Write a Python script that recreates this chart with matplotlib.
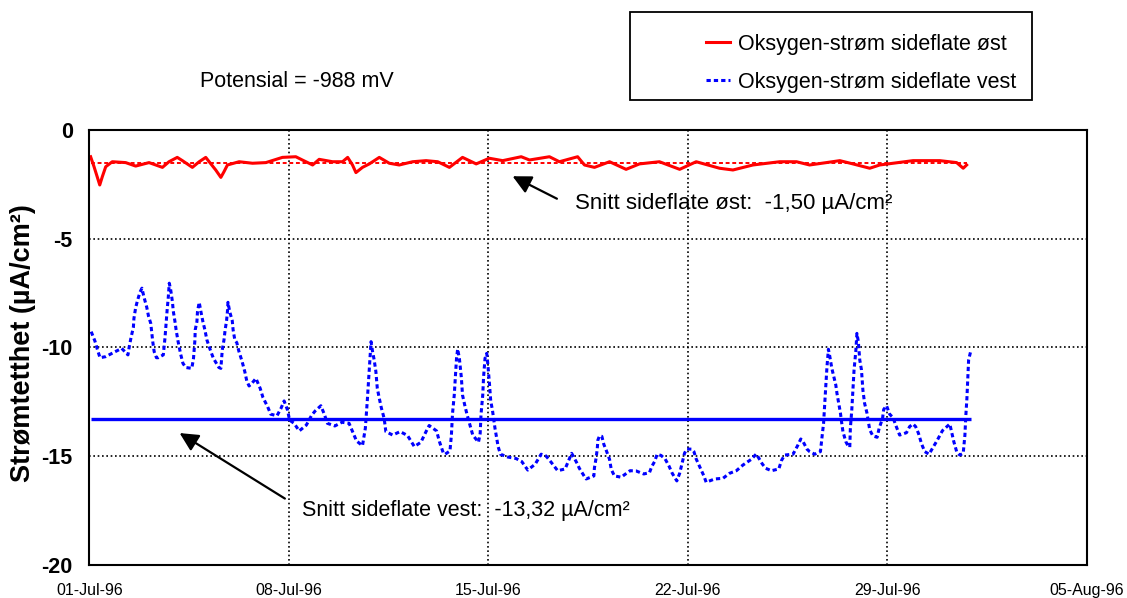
import numpy as np
import matplotlib.pyplot as plt
from matplotlib.patches import Rectangle

plt.rcParams['font.family'] = ['Liberation Sans', 'DejaVu Sans']

# days after 01-Jul-96
east_days = [0.04, 0.16, 0.27, 0.36, 0.45, 0.57, 0.80, 1.27, 1.62, 2.09, 2.56, 2.79, 3.08, 3.26,
             3.61, 3.85, 4.08, 4.26, 4.43, 4.61, 4.72, 4.84, 5.25, 5.72, 6.19, 6.77, 7.24, 7.47,
             7.83, 8.06, 8.53, 8.88, 9.06, 9.23, 9.35, 9.58, 9.82, 10.17, 10.52, 10.87, 11.34,
             11.81, 12.22, 12.63, 13.09, 13.57, 14.03, 14.50, 15.15, 15.44, 16.14, 16.49, 17.13,
             17.37, 17.72, 18.25, 18.83, 19.30, 20.00, 20.71, 21.29, 22.11, 22.58, 23.28, 24.22,
             24.81, 25.27, 25.86, 26.33, 26.79, 27.38, 27.73, 28.20, 28.90, 29.84, 30.43, 30.66,
             30.78]
east_vals = [-1.23, -1.69, -2.15, -2.53, -2.15, -1.69, -1.46, -1.50, -1.66, -1.50, -1.72, -1.46,
             -1.26, -1.41, -1.72, -1.46, -1.26, -1.56, -1.84, -2.18, -1.92, -1.61, -1.46, -1.53,
             -1.50, -1.26, -1.23, -1.38, -1.61, -1.35, -1.46, -1.46, -1.26, -1.61, -1.96, -1.72,
             -1.56, -1.26, -1.53, -1.61, -1.46, -1.41, -1.46, -1.72, -1.26, -1.56, -1.30, -1.41,
             -1.23, -1.38, -1.23, -1.46, -1.23, -1.61, -1.72, -1.46, -1.81, -1.56, -1.46, -1.81,
             -1.46, -1.76, -1.84, -1.61, -1.46, -1.46, -1.61, -1.50, -1.41, -1.56, -1.76, -1.61,
             -1.53, -1.41, -1.41, -1.50, -1.76, -1.61]

west_days = [0.06, 0.19, 0.30, 0.37, 0.57, 0.86, 1.13, 1.35, 1.40, 1.46, 1.54, 1.56, 1.62, 1.68,
             1.77, 1.84, 1.91, 2.01, 2.07, 2.15, 2.22, 2.27, 2.35, 2.41, 2.59, 2.65, 2.70, 2.73,
             2.76, 2.80, 2.85, 2.91, 2.94, 3.00, 3.04, 3.11, 3.20, 3.28, 3.38, 3.59, 3.65, 3.70,
             3.71, 3.77, 3.79, 3.85, 3.91, 3.98, 4.05, 4.12, 4.26, 4.35, 4.54, 4.61, 4.66, 4.72,
             4.76, 4.81, 4.84, 4.86, 4.92, 5.01, 5.04, 5.10, 5.17, 5.24, 5.35, 5.45, 5.52, 5.60,
             5.70, 5.84, 5.99, 6.09, 6.25, 6.36, 6.58, 6.72, 6.83, 6.95, 7.02, 7.18, 7.36, 7.61,
             7.80, 7.92, 8.12, 8.24, 8.35, 8.61, 8.86, 9.11, 9.26, 9.37, 9.58, 9.68, 9.75, 9.79,
             9.83, 9.88, 9.93, 9.99, 10.05, 10.10, 10.17, 10.24, 10.34, 10.40, 10.64, 10.90,
             11.16, 11.40, 11.63, 11.81, 11.92, 12.18, 12.28, 12.42, 12.48, 12.65, 12.70, 12.74,
             12.80, 12.84, 12.88, 12.92, 12.98, 13.05, 13.09, 13.18, 13.26, 13.35, 13.45, 13.65,
             13.71, 13.74, 13.80, 13.83, 13.88, 13.94, 13.97, 14.03, 14.08, 14.14, 14.23, 14.34,
             14.42, 14.68, 14.97, 15.17, 15.38, 15.64, 15.85, 16.02, 16.20, 16.43, 16.69, 16.82,
             16.92, 17.11, 17.19, 17.37, 17.43, 17.70, 17.72, 17.78, 17.82, 17.84, 17.90, 17.98,
             18.05, 18.13, 18.25, 18.31, 18.42, 18.66, 18.77, 18.97, 19.18, 19.45, 19.65, 19.73,
             19.83, 19.92, 20.06, 20.20, 20.33, 20.45, 20.61, 20.71, 20.80, 20.88, 20.96, 21.14,
             21.21, 21.29, 21.41, 21.56, 21.64, 21.94, 22.23, 22.46, 22.70, 22.93, 23.22, 23.40,
             23.61, 23.73, 23.93, 24.19, 24.28, 24.39, 24.69, 24.86, 24.96, 25.04, 25.18, 25.27,
             25.45, 25.65, 25.68, 25.72, 25.76, 25.80, 25.84, 25.88, 25.93, 25.98, 26.05, 26.12,
             26.19, 26.23, 26.29, 26.35, 26.39, 26.44, 26.54, 26.62, 26.68, 26.70, 26.75, 26.79,
             26.83, 26.89, 26.93, 26.98, 27.03, 27.09, 27.14, 27.20, 27.28, 27.38, 27.49, 27.64,
             27.71, 27.83, 27.87, 27.97, 28.08, 28.20, 28.29, 28.43, 28.67, 28.78, 28.90, 28.99,
             29.09, 29.20, 29.31, 29.46, 29.63, 29.74, 29.93, 30.19, 30.25, 30.33, 30.43, 30.54,
             30.66, 30.72, 30.75, 30.79, 30.82, 30.85, 30.92]
west_vals = [-9.28, -9.71, -10.20, -10.48, -10.43, -10.23, -10.05, -10.35, -9.94, -9.54, -9.08,
             -8.67, -8.18, -7.87, -7.47, -7.28, -7.68, -8.16, -8.56, -8.90, -9.74, -10.20, -10.48,
             -10.48, -10.35, -9.56, -8.67, -8.20, -7.79, -7.05, -7.36, -7.90, -8.33, -8.82, -9.20,
             -9.74, -10.32, -10.74, -10.93, -10.97, -10.51, -9.66, -9.20, -8.82, -8.36, -7.93,
             -8.36, -8.82, -9.20, -9.66, -10.20, -10.51, -10.93, -10.97, -10.12, -9.66, -9.20,
             -8.78, -8.36, -7.93, -8.36, -8.78, -9.20, -9.66, -9.79, -10.17, -10.63, -11.12,
             -11.55, -11.78, -11.66, -11.43, -11.89, -12.32, -12.73, -13.08, -13.15, -12.81,
             -12.47, -12.89, -13.35, -13.50, -13.85, -13.58, -13.12, -12.93, -12.69, -13.08,
             -13.50, -13.62, -13.45, -13.50, -13.96, -14.31, -14.53, -13.73, -12.43, -11.58,
             -10.66, -9.74, -10.17, -10.58, -11.12, -11.89, -12.35, -12.78, -13.27, -13.88,
             -14.04, -13.88, -14.06, -14.57, -14.37, -13.88, -13.60, -13.85, -14.34, -14.88,
             -14.92, -14.77, -14.04, -13.04, -12.20, -11.35, -10.51, -10.08, -10.51, -11.40,
             -12.20, -12.73, -13.15, -13.58, -14.04, -14.37, -13.96, -13.08, -12.20, -11.35,
             -10.51, -10.28, -10.66, -11.58, -12.47, -12.89, -13.73, -14.57, -14.92, -15.05,
             -15.12, -15.26, -15.65, -15.38, -14.92, -15.00, -15.29, -15.68, -15.60, -15.19,
             -14.88, -15.34, -15.57, -15.95, -16.06, -15.92, -15.54, -15.08, -14.65, -14.27,
             -14.07, -14.10, -14.47, -14.73, -15.16, -15.62, -15.92, -15.98, -15.87, -15.68,
             -15.69, -15.83, -15.77, -15.49, -15.26, -14.92, -14.98, -15.14, -15.45, -15.80,
             -16.15, -15.80, -15.31, -14.88, -14.68, -14.69, -14.80, -15.14, -15.49, -15.92,
             -16.21, -16.06, -16.03, -15.80, -15.68, -15.42, -15.16, -14.91, -15.37, -15.57,
             -15.68, -15.60, -15.22, -14.96, -14.92, -14.50, -14.22, -14.34, -14.69, -14.80,
             -14.92, -14.80, -14.42, -13.96, -13.50, -12.66, -11.74, -10.89, -10.09, -10.43,
             -10.97, -11.35, -11.74, -12.12, -12.58, -13.01, -13.42, -13.88, -14.34, -14.54,
             -14.60, -13.73, -12.89, -11.97, -11.04, -10.20, -9.36, -9.74, -10.58, -11.04, -11.97,
             -12.58, -13.01, -13.80, -14.08, -14.14, -13.73, -13.27, -12.86, -12.69, -13.08,
             -13.24, -13.58, -14.04, -13.93, -13.65, -13.53, -13.65, -13.96, -14.45, -14.80,
             -14.92, -14.54, -14.30, -13.84, -13.53, -13.88, -14.34, -14.80, -14.96, -14.88,
             -14.04, -13.19, -12.35, -11.50, -10.58, -10.20]

east_mean = -1.50
west_mean = -13.32
tick_days = [0, 7, 14, 21, 28, 35]
tick_labels = ['01-Jul-96', '08-Jul-96', '15-Jul-96', '22-Jul-96', '29-Jul-96', '05-Aug-96']
yticks = [0, -5, -10, -15, -20]

fig = plt.figure(figsize=(11.27, 5.98), dpi=100)
ax = fig.add_axes([0.0794, 0.0559, 0.885, 0.7267])

ax.plot(east_days, east_vals, color='#ff0000', lw=2.2, label='Oksygen-strøm sideflate øst')
ax.plot(west_days, west_vals, color='#0000ff', lw=2.2, linestyle=(0, (1.4, 1.0)),
        label='Oksygen-strøm sideflate vest')
ax.hlines(east_mean, east_days[0], east_days[-1], color='#ff0000', lw=1.4, linestyles=[(0, (2, 1.4))])
ax.hlines(west_mean, west_days[0], west_days[-1], color='#0000ff', lw=2.4)

ax.set_xlim(0, 35)
ax.set_ylim(-20, 0)
ax.set_xticks(tick_days)
ax.set_xticklabels(tick_labels, fontsize=11.5)
ax.set_yticks(yticks)
ax.set_yticklabels([str(v) for v in yticks], fontsize=15.5, fontweight='bold')
ax.tick_params(axis='both', length=0)
ax.tick_params(axis='x', pad=13)
ax.tick_params(axis='y', pad=12)
ax.grid(True, color='black', linestyle=(0, (1, 1.6)), lw=1.2)
for s in ax.spines.values():
    s.set_linewidth(1.5)

ax.set_ylabel('Strømtetthet (µA/cm²)', fontsize=19.5, fontweight='bold')
ax.yaxis.set_label_coords(-0.054, 0.51)

ax.annotate('', xy=(14.76, -2.07), xytext=(16.49, -3.22),
            arrowprops=dict(arrowstyle='-|>', mutation_scale=28, lw=1.6, color='black'))
ax.text(17.02, -3.36, 'Snitt sideflate øst:  -1,50 µA/cm²', fontsize=16, va='center', ha='left')
ax.annotate('', xy=(3.08, -13.88), xytext=(6.94, -17.03),
            arrowprops=dict(arrowstyle='-|>', mutation_scale=28, lw=1.6, color='black'))
ax.text(7.46, -17.49, 'Snitt sideflate vest:  -13,32 µA/cm²', fontsize=15.5, va='center', ha='left')

fig.text(0.1775, 0.863, 'Potensial = -988 mV', fontsize=15.5, va='center', ha='left')

fig.patches.append(Rectangle((630 / 1127, 1 - 100 / 598), 402 / 1127, 88 / 598,
                             transform=fig.transFigure, fill=False, edgecolor='black', lw=1.3))
fig.legend(loc='upper left', bbox_to_anchor=(706 / 1127, 1 - 34 / 598), frameon=False,
           fontsize=15.5, handlelength=1.1, handletextpad=0.4, labelspacing=0.78,
           borderpad=0, borderaxespad=0)

fig.savefig('out.png', dpi=100)
